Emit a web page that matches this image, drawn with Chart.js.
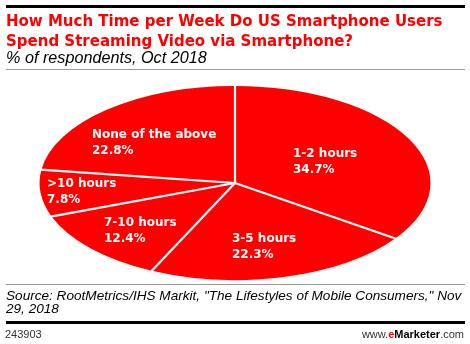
<!DOCTYPE html>
<html>
<head>
<meta charset="utf-8">
<script src="https://cdn.jsdelivr.net/npm/chart.js@4"></script>
<style>
  html, body { margin:0; padding:0; background:#fff; }
  body { width:470px; height:344px; position:relative; overflow:hidden; }
  .abs { position:absolute; white-space:nowrap; }
  #topline { left:6px; top:5px; width:459px; height:3px; background:#000; }
  #title { left:6px; top:11px; font:bold 15px "DejaVu Sans"; line-height:20px; color:#f00; }
  #subtitle { left:6px; top:48px; font:italic 16.2px "Liberation Sans"; line-height:18px; color:#000; }
  #line2 { left:6px; top:69px; width:459px; height:1px; background:#999; }
  #line3 { left:6px; top:284px; width:459px; height:1px; background:#999; }
  #source { left:6px; top:289px; font:italic 13.6px "Liberation Sans"; line-height:13px; color:#000; }
  #line4 { left:6px; top:321px; width:459px; height:3px; background:#000; }
  #id { left:5px; top:328px; font:11px "Liberation Sans"; line-height:13px; color:#333; }
  #brand { right:6px; top:328px; font:11px "Liberation Sans"; line-height:13px; color:#333; }
  #brand b { color:#000; }
  #brand .e { color:#f00; }
  #wrap { position:absolute; left:0; top:0; width:470px; height:344px; }
</style>
</head>
<body>
<div id="wrap"><canvas id="c" width="470" height="344"></canvas></div>
<div class="abs" id="topline"></div>
<div class="abs" id="title">How Much Time per Week Do US Smartphone Users<br>Spend Streaming Video via Smartphone?</div>
<div class="abs" id="subtitle">% of respondents, Oct 2018</div>
<div class="abs" id="line2"></div>
<div class="abs" id="line3"></div>
<div class="abs" id="source">Source: RootMetrics/IHS Markit, "The Lifestyles of Mobile Consumers," Nov<br>29, 2018</div>
<div class="abs" id="line4"></div>
<div class="abs" id="id">243903</div>
<div class="abs" id="brand">www.<b class="e">e</b><b>Marketer</b>.com</div>
<script>
// ---- data ----
const categories = ["1-2 hours", "3-5 hours", "7-10 hours", ">10 hours", "None of the above"];
const values = [34.7, 22.3, 12.4, 7.8, 22.8];

// ---- style / layout ----
const ELLIPSE_X = 2.015;             // horizontal stretch of the pie
const labelFx = [0.52, 0.575, 0.66, 0.79, 0.63];
const labelFy = [0.48, 0.68, 0.73, 0.87, 0.55];

const ellipsePlugin = {
  id: 'ellipse',
  beforeDatasetsDraw(chart) {
    const arc = chart.getDatasetMeta(0).data[0];
    const ctx = chart.ctx;
    ctx.save();
    ctx.translate(arc.x, arc.y);
    ctx.scale(ELLIPSE_X, 1);
    ctx.translate(-arc.x, -arc.y);
  },
  afterDatasetsDraw(chart) {
    const ctx = chart.ctx;
    ctx.restore();
    const arcs = chart.getDatasetMeta(0).data;
    // separators
    ctx.save();
    ctx.strokeStyle = '#fff';
    ctx.lineWidth = 2.2;
    arcs.forEach(a => {
      const R = a.outerRadius + 0.5;
      ctx.beginPath();
      ctx.moveTo(a.x, a.y);
      ctx.lineTo(a.x + Math.cos(a.startAngle) * R * ELLIPSE_X, a.y + Math.sin(a.startAngle) * R);
      ctx.stroke();
    });
    // labels
    ctx.fillStyle = '#fff';
    ctx.font = 'bold 12px "DejaVu Sans"';
    ctx.textBaseline = 'middle';
    ctx.textAlign = 'left';
    arcs.forEach((a, i) => {
      const mid = (a.startAngle + a.endAngle) / 2;
      const R = a.outerRadius;
      const cx = a.x + Math.cos(mid) * R * ELLIPSE_X * labelFx[i];
      const cy = a.y + Math.sin(mid) * R * labelFy[i];
      const l1 = categories[i];
      const l2 = values[i].toFixed(1) + '%';
      const w = Math.max(ctx.measureText(l1).width, ctx.measureText(l2).width);
      const x = Math.round(cx - w / 2);
      ctx.fillText(l1, x, cy - 8);
      ctx.fillText(l2, x, cy + 8);
    });
    ctx.restore();
  }
};

new Chart(document.getElementById('c'), {
  type: 'pie',
  data: {
    labels: categories,
    datasets: [{
      data: values,
      backgroundColor: '#f00',
      borderWidth: 0,
      hoverOffset: 0
    }]
  },
  options: {
    responsive: false,
    animation: false,
    events: [],
    layout: { padding: { top: 86, bottom: 64, left: 138, right: 138 } },
    plugins: { legend: { display: false }, tooltip: { enabled: false }, title: { display: false } }
  },
  plugins: [ellipsePlugin]
});
</script>
</body>
</html>
